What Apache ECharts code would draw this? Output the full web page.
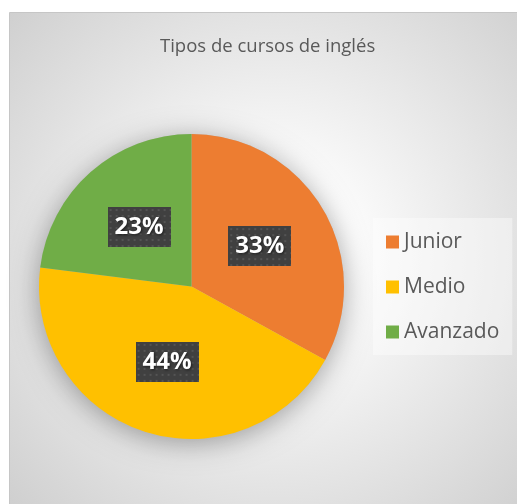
<!DOCTYPE html>
<html>
<head>
<meta charset="utf-8">
<script src="https://cdn.jsdelivr.net/npm/echarts@6/dist/echarts.min.js"></script>
<style>
html, body { margin: 0; padding: 0; background: #fff; }
#main { width: 517px; height: 504px; }
</style>
</head>
<body>
<div id="main"></div>
<script>
var titleText = "Tipos de cursos de inglés";
var categories = ["Junior", "Medio", "Avanzado"];
var values = [33, 44, 23];
var colors = ["#ED7D31", "#FFC000", "#70AD47"];

// dotted dark box behind the data labels
function makeDots(w, h) {
	var c = document.createElement("canvas");
	c.width = w; c.height = h;
	var ctx = c.getContext("2d");
	ctx.fillStyle = "#404040";
	ctx.fillRect(0, 0, w, h);
	ctx.fillStyle = "#545454";
	for (var y = 2; y < h; y += 6) {
		for (var x = 2; x < w; x += 6) {
			ctx.fillRect(x, y, 2, 2);
		}
	}
	return c;
}
var dots = makeDots(63, 40);

var pieData = [];
var total = 0;
for (var i = 0; i < categories.length; i++) {
	pieData.push({ name: categories[i], value: values[i], itemStyle: { color: colors[i] } });
	total += values[i];
}

var chart = echarts.init(document.getElementById("main"));
var option = {
	backgroundColor: "#ffffff",
	animation: false,
	graphic: [{
		type: "rect",
		z: -100,
		silent: true,
		shape: { x: 9.5, y: 12.5, width: 600, height: 600 },
		style: {
			stroke: "#c6c6c6",
			lineWidth: 1,
			fill: {
				type: "radial", global: true, x: 275, y: 255, r: 390,
				colorStops: [
					{ offset: 0, color: "#ffffff" },
					{ offset: 0.2, color: "#fcfcfc" },
					{ offset: 1, color: "#cbcbcb" }
				]
			}
		}
	}],
	title: {
		text: titleText,
		left: 160,
		top: 37,
		padding: 0,
		textStyle: { fontFamily: "Open Sans", fontSize: 18.5, fontWeight: "normal", color: "#595959" }
	},
	legend: {
		orient: "vertical",
		left: 373,
		top: 218,
		width: 125,
		padding: [13, 13, 12, 13],
		backgroundColor: "rgba(255,255,255,0.4)",
		itemWidth: 13,
		itemHeight: 13,
		itemGap: 23,
		icon: "rect",
		data: categories,
		textStyle: { fontFamily: "Open Sans", fontSize: 21, lineHeight: 22, color: "#595959" }
	},
	series: [{
		// soft shadow under the pie
		type: "pie",
		silent: true,
		center: [191.5, 286.5],
		radius: 152.5,
		z: 1,
		label: { show: false },
		itemStyle: {
			color: "#bbbbbb",
			shadowBlur: 28,
			shadowOffsetY: 4,
			shadowColor: "rgba(0,0,0,0.35)"
		},
		data: [{ name: "", value: total }]
	}, {
		type: "pie",
		center: [191.5, 286.5],
		radius: 152.5,
		startAngle: 90,
		z: 3,
		itemStyle: { borderWidth: 0 },
		label: {
			show: true,
			position: "inside",
			formatter: function (p) { return "{b|" + Math.round(p.percent) + "%}"; },
			rich: {
				b: {
					width: 63,
					height: 40,
					lineHeight: 40,
					align: "center",
					fontFamily: "Open Sans",
					fontSize: 24,
					fontWeight: "bold",
					color: "#ffffff",
					backgroundColor: { image: dots },
					shadowColor: "rgba(0,0,0,0.55)",
					shadowBlur: 5,
					shadowOffsetX: 3,
					shadowOffsetY: 3,
					textShadowColor: "rgba(0,0,0,0.6)",
					textShadowBlur: 3,
					textShadowOffsetX: 1,
					textShadowOffsetY: 1
				}
			}
		},
		labelLine: { show: false },
		data: pieData
	}]
};
chart.setOption(option);
</script>
</body>
</html>
